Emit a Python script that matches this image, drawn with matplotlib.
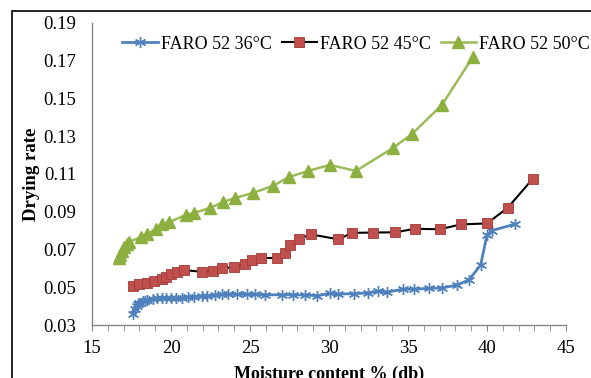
import matplotlib
matplotlib.use("Agg")
import matplotlib.pyplot as plt
from matplotlib.patches import Rectangle
from matplotlib.ticker import MultipleLocator

plt.rcParams['font.family'] = ['Liberation Serif', 'DejaVu Serif']

# FARO 52 dried at 36 C
mc_36 = [17.6, 17.7, 17.85, 17.9, 18.0, 18.2, 18.35, 18.5, 18.85, 19.1, 19.4, 19.7,
         20.0, 20.3, 20.7, 21.1, 21.45, 21.95, 22.3, 22.8, 23.2, 23.6, 24.2, 24.8,
         25.3, 25.95, 27.0, 27.7, 28.5, 29.25, 30.06, 30.6, 31.6, 32.45, 33.1, 33.7,
         34.7, 35.4, 36.3, 37.15, 38.1, 38.85, 39.6, 40.0, 40.3, 41.8]
dr_36 = [0.036, 0.0385, 0.040, 0.041, 0.0418, 0.0425, 0.0429, 0.0432, 0.0438, 0.0441,
         0.0444, 0.0441, 0.0441, 0.0444, 0.0444, 0.0446, 0.0450, 0.0453, 0.0453, 0.0460,
         0.0462, 0.0462, 0.0462, 0.0462, 0.0462, 0.0460, 0.0460, 0.0460, 0.0459, 0.0455,
         0.0468, 0.0464, 0.0466, 0.0470, 0.0478, 0.0475, 0.0490, 0.0490, 0.0494, 0.0496,
         0.0512, 0.0538, 0.0618, 0.0777, 0.0800, 0.0835]

# FARO 52 dried at 45 C
mc_45 = [17.6, 18.0, 18.5, 18.9, 19.4, 19.7, 19.98, 20.4, 20.8, 21.95, 22.65, 23.2,
         24.0, 24.7, 25.1, 25.7, 26.7, 27.2, 27.5, 28.1, 28.85, 30.6, 31.45, 32.8,
         34.2, 35.45, 37.0, 38.35, 40.0, 41.3, 42.9]
dr_45 = [0.0507, 0.0517, 0.0523, 0.0533, 0.0544, 0.0554, 0.0570, 0.0580, 0.0591, 0.0582,
         0.0586, 0.0600, 0.0607, 0.0623, 0.0644, 0.0655, 0.0655, 0.0680, 0.0724, 0.0756,
         0.0780, 0.0754, 0.0788, 0.0790, 0.0791, 0.0810, 0.0807, 0.0833, 0.0838, 0.0920,
         0.1075]

# FARO 52 dried at 50 C
mc_50 = [16.7, 16.8, 16.9, 17.0, 17.2, 17.35, 18.1, 18.5, 19.05, 19.4, 19.9, 20.95,
         21.46, 22.47, 23.3, 24.05, 25.2, 26.45, 27.47, 28.67, 30.06, 31.7, 34.05,
         35.25, 37.15, 39.1]
dr_50 = [0.0655, 0.0671, 0.0692, 0.0713, 0.0729, 0.0740, 0.0766, 0.0782, 0.0809, 0.0835,
         0.0846, 0.0883, 0.0894, 0.0920, 0.0952, 0.0973, 0.1000, 0.1037, 0.1084, 0.1116,
         0.1148, 0.1116, 0.1238, 0.1312, 0.1466, 0.1720]

labels = ['FARO 52 36°C', 'FARO 52 45°C', 'FARO 52 50°C']

fig = plt.figure(figsize=(5.91, 3.78), dpi=100)
ax = fig.add_axes([0.1557, 0.1402, 0.802, 0.799])

ax.plot(mc_36, dr_36, color='#4F81BD', lw=2, marker=(6, 2, 0), ms=8,
        mec='#4F81BD', mew=1, label=labels[0])
ax.plot(mc_45, dr_45, color='black', lw=1.5, marker='s', ms=7,
        mfc='#C0504D', mec='#A33B38', mew=0.6, label=labels[1])
ax.plot(mc_50, dr_50, color='#9BBB59', lw=1.8, marker='^', ms=8,
        mfc='#8CB040', mec='#8CB040', label=labels[2])

ax.set_xlim(15, 45)
ax.set_ylim(0.03, 0.19)
ax.set_xticks([15, 20, 25, 30, 35, 40, 45])
ax.xaxis.set_minor_locator(MultipleLocator(1))
ax.set_yticks([0.03, 0.05, 0.07, 0.09, 0.11, 0.13, 0.15, 0.17, 0.19])
ax.set_yticklabels(['0.03', '0.05', '0.07', '0.09', '0.11', '0.13', '0.15', '0.17', '0.19'])

for s in ['top', 'right']:
    ax.spines[s].set_visible(False)
for s in ['left', 'bottom']:
    ax.spines[s].set_color('#868686')
    ax.spines[s].set_linewidth(1)

ax.tick_params(axis='y', length=0, pad=11.5, labelsize=13.5)
ax.tick_params(axis='x', which='both', direction='out', length=4, color='#868686',
               pad=7, labelsize=13.5)

ax.set_xlabel('Moisture content % (db)', fontsize=13, fontweight='bold', labelpad=6)
ax.set_ylabel('Drying rate', fontsize=13.5, fontweight='bold', labelpad=2)

ax.legend(loc='upper left', bbox_to_anchor=(0.195, 0.925), bbox_transform=fig.transFigure,
          ncol=3, frameon=False, fontsize=13, handlelength=1.95, handletextpad=0.17,
          columnspacing=0.55, borderaxespad=0)

# chart area border
fig.add_artist(Rectangle((12 / 591, -0.2), 1.2, 1.2 - 11 / 378,
                         transform=fig.transFigure, fill=False, edgecolor='black', lw=1.2))

fig.savefig('out.png', dpi=100)
